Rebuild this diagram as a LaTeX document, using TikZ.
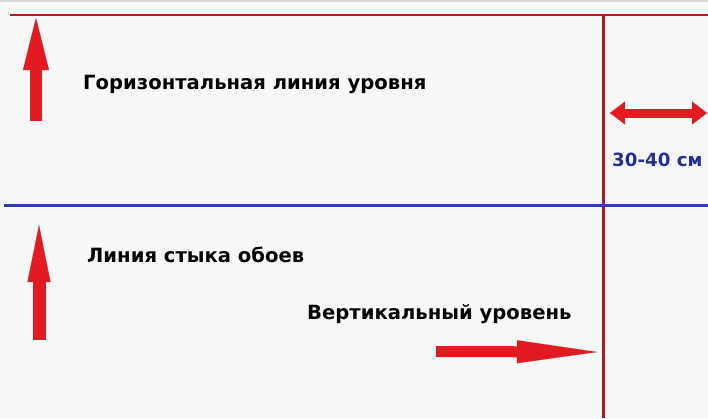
\documentclass[tikz,border=0pt]{standalone}
\usepackage{fontspec}
\setmainfont{DejaVu Sans}
\usetikzlibrary{arrows.meta, positioning}
\definecolor{lineRed}{RGB}{176,28,34}
\definecolor{arrowRed}{RGB}{226,26,34}
\definecolor{lineBlue}{RGB}{52,62,170}
\definecolor{textBlue}{RGB}{32,48,150}
\definecolor{paper}{RGB}{248,248,248}
\tikzstyle{label} = [inner sep=0pt, anchor=base west, font=\fontsize{19.6}{22}\selectfont\bfseries]
\tikzstyle{level} = [line width=2pt, lineRed]
\tikzstyle{bigarrow} = [line width=12pt, arrowRed]

\begin{document}
\begin{tikzpicture}[x=1pt, y=-1pt]
\fill[paper] (0,0) rectangle (708,418);
\fill[gray!30] (0,0) rectangle (708,2);
\useasboundingbox (0,0) rectangle (708,418);
% level lines
\coordinate (topL) at (10,15);
\coordinate (topR) at (708,15);
\coordinate (vertT) at (603.5,16);
\coordinate (vertB) at (603.5,418);
\coordinate (jointL) at (4,205);
\coordinate (jointR) at (708,205);
\draw [level] (topL) -- (topR);
\draw [level, line width=3pt] (vertT) -- (vertB);
\draw [lineBlue, line width=3pt] (jointL) -- (jointR);
% texts
\node [label] (horiz) at (83,89) {Горизонтальная линия уровня};
\node [label] (joint) at (87,262) {Линия стыка обоев};
\node [label] (vert) at (307,319) {Вертикальный уровень};
\node [label, textBlue, font=\fontsize{18.2}{20}\selectfont\bfseries] (gap) at (612,166) {30-40 см};
% arrows
\coordinate (a1s) at (36,121);
\coordinate (a1e) at (36,18);
\coordinate (a2s) at (39,340);
\coordinate (a2e) at (39,225);
\coordinate (a3s) at (436,351.5);
\coordinate (a3e) at (597,352);
\coordinate (dL) at (610,113);
\coordinate (dR) at (707,113);
\draw [bigarrow, -{Triangle[length=52pt, width=26pt, line width=0.1pt]}] (a1s) -- (a1e);
\draw [bigarrow, line width=13pt, -{Triangle[length=57pt, width=23pt, line width=0.1pt]}] (a2s) -- (a2e);
\draw [bigarrow, line width=11pt, -{Triangle[length=80pt, width=23pt, line width=0.1pt]}] (a3s) -- (a3e);
\draw [bigarrow, line width=9pt, {Triangle[length=15pt, width=23pt, line width=0.1pt]}-{Triangle[length=15pt, width=23pt, line width=0.1pt]}] (dL) -- (dR);
\end{tikzpicture}
\end{document}
